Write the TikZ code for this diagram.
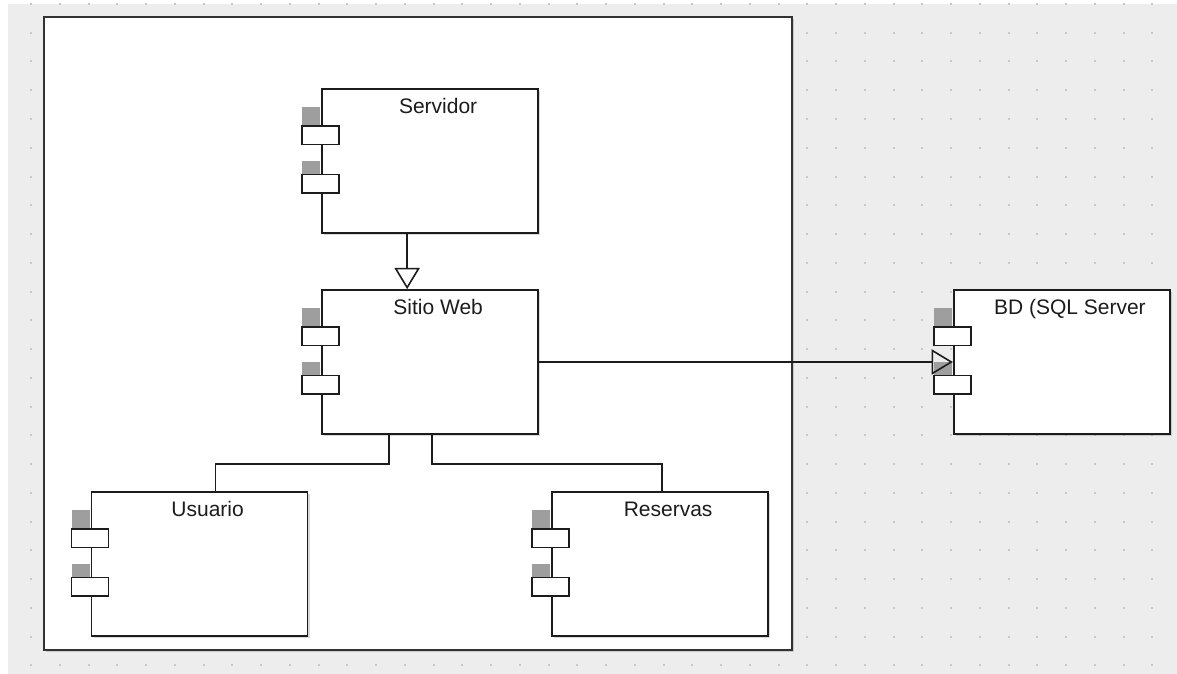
\documentclass[tikz,border=0pt]{standalone}
\usepackage{fontspec}
\setmainfont{Liberation Sans}
\usetikzlibrary{arrows.meta,calc,positioning,shadows}
\definecolor{fondogris}{RGB}{237,237,237}
\definecolor{puntogris}{RGB}{200,200,200}
\definecolor{sombragris}{RGB}{158,158,158}
\definecolor{lineaoscura}{RGB}{28,28,28}
\tikzset{
  componente/.style={
    draw=lineaoscura,
    fill=white,
    line width=1.3pt,
    minimum width=162pt,
    minimum height=108pt,
    inner sep=0pt,
    drop shadow={shadow xshift=1.5pt, shadow yshift=-1.5pt, opacity=.15, fill=black}
  },
  marco/.style={
    draw=lineaoscura!90,
    fill=white,
    line width=1.5pt,
    drop shadow={shadow xshift=1.5pt, shadow yshift=-1.5pt, opacity=.15, fill=black}
  },
  puerto/.style={
    draw=lineaoscura,
    fill=white,
    line width=1pt
  },
  sombra/.style={
    fill=sombragris
  },
  titulo/.style={
    anchor=base,
    inner sep=0pt,
    text=lineaoscura,
    font=\fontsize{15.75}{18}\selectfont
  },
  conector/.style={
    draw=lineaoscura,
    line width=1.2pt
  },
  flecha/.style={
    conector,
    -{Triangle[open, length=16pt, width=19pt]}
  }
}
\begin{document}
\begin{tikzpicture}[x=0.75pt, y=-0.75pt]
\useasboundingbox (0,0) rectangle (1177,674);
\fill[white] (0,0) rectangle (1177,674);
\fill[fondogris] (8,4) rectangle (1177,674);
% rejilla de puntos
\begin{scope}
  \clip (8,4) rectangle (1177,674);
  \foreach \i in {0,...,39}
    \foreach \j in {0,...,23}
      \fill[puntogris] (30+28.75*\i,3+28.75*\j) rectangle ++(2,2);
\end{scope}
% subsistema
\draw[marco] (44,17) rectangle (792,650);
% componentes
\node[componente] (srv) at (430,161) {};
\node[componente, below=41.45pt of srv] (web) {};
\node[componente, right=310.5pt of web] (bd) {};
\node[componente] (usr) at (199.5,564) {};
\node[componente] (res) at (660,564) {};
% sombras de los puertos
\foreach \n in {srv,web,usr,res,bd}{
  \fill[sombra] ($(\n.north west)+(-19,19)$) rectangle ++(18,19);
  \fill[sombra] ($(\n.north west)+(-19,73)$) rectangle ++(18,13.5);
}
% conectores
\coordinate (s1) at ($(srv.south west)+(86,0)$);
\coordinate (w1) at ($(web.south west)+(68,0)$);
\coordinate (w2) at ($(web.south west)+(111,0)$);
\coordinate (u1) at ($(usr.north west)+(125,0)$);
\coordinate (r1) at ($(res.north west)+(111,0)$);
\draw[flecha] (s1) -- (s1 |- web.north);
\draw[flecha] (web.east) -- (bd.west);
\draw[conector] (w1) -- ++(0,29) -| (u1);
\draw[conector] (w2) -- ++(0,29) -| (r1);
% puertos y nombres
\foreach \n/\t in {srv/Servidor, web/Sitio Web, usr/Usuario, res/Reservas, bd/{BD (SQL Server}}{
  \draw[puerto] ($(\n.north west)+(-19,38)$) rectangle ++(37,18.5);
  \draw[puerto] ($(\n.north west)+(-19,86.5)$) rectangle ++(37,18.5);
  \node[titulo] (\n-t) at ($(\n.north west)+(117,25.5)$) {\t};
}
\end{tikzpicture}
\end{document}
